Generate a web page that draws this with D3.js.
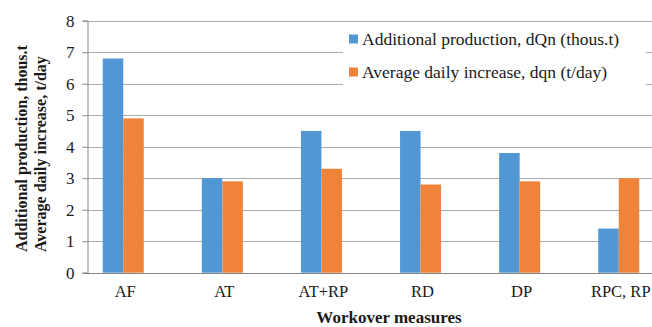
<!DOCTYPE html>
<html>
<head>
<meta charset="utf-8">
<script src="https://cdn.jsdelivr.net/npm/d3@7/dist/d3.min.js"></script>
<style>
  html, body { margin: 0; padding: 0; background: #fff; }
  svg { display: block; }
  svg text { font-family: "Times New Roman", "Liberation Serif", Times, serif !important; fill: #1a1a1a; }
</style>
</head>
<body>
<svg id="chart" width="652" height="327"></svg>
<script>
// Workover measures and their effect
const categories = ["AF", "AT", "AT+RP", "RD", "DP", "RPC, RP"];
const additionalProduction = [6.8, 3.0, 4.5, 4.5, 3.8, 1.4];   // dQn, thous.t
const averageDailyIncrease = [4.9, 2.9, 3.3, 2.8, 2.9, 3.0];   // dqn, t/day
const yTicks = [0, 1, 2, 3, 4, 5, 6, 7, 8];
const seriesNames = ["Additional production, dQn (thous.t)", "Average daily increase, dqn (t/day)"];
const seriesColors = ["#5097d3", "#f0833a"];

const svg = d3.select("#chart");
const axisX = 87.5, plotRight = 652, y0 = 272.7, yTop = 20.7;

const x = d3.scaleBand().domain(categories).range([73.7, 668.3]).paddingInner(0).paddingOuter(0);
const sub = d3.scaleBand().domain([0, 1]).range([0, x.bandwidth()]).paddingInner(0).paddingOuter(1.417);
const y = d3.scaleLinear().domain([0, 8]).range([y0, yTop]);

// gridlines
svg.append("g").selectAll("line").data(yTicks.filter(d => d > 0)).join("line")
  .attr("x1", axisX).attr("x2", plotRight)
  .attr("y1", d => Math.round(y(d)) + 0.5).attr("y2", d => Math.round(y(d)) + 0.5)
  .attr("stroke", "#ababab").attr("stroke-width", 1);

// bars
const series = [additionalProduction, averageDailyIncrease];
series.forEach((vals, si) => {
  svg.append("g").selectAll("rect").data(categories).join("rect")
    .attr("x", d => x(d) + sub(si))
    .attr("width", sub.bandwidth())
    .attr("y", (d, i) => y(vals[i]))
    .attr("height", (d, i) => y(0) - y(vals[i]))
    .attr("fill", seriesColors[si]);
});

// y axis
const yAxis = d3.axisLeft(y).tickValues(yTicks).tickSize(5).tickPadding(8).tickFormat(d3.format("d"));
const gy = svg.append("g").attr("transform", `translate(${axisX},0)`).call(yAxis)
  .attr("font-family", null);
gy.select(".domain").attr("stroke", "#858585");
gy.selectAll(".tick line").attr("stroke", "#858585");
gy.selectAll(".tick text").attr("font-size", 17).attr("fill", "#1a1a1a");

// x axis baseline
svg.append("line").attr("x1", axisX - 5).attr("x2", plotRight)
  .attr("y1", Math.round(y0) + 0.5).attr("y2", Math.round(y0) + 0.5)
  .attr("stroke", "#858585");

// category labels
svg.append("g").selectAll("text").data(categories).join("text")
  .attr("x", d => x(d) + x.bandwidth() / 2 + 2)
  .attr("y", 297)
  .attr("text-anchor", "middle")
  .attr("font-size", 16.5)
  .text(d => d);

// axis titles
svg.append("text").attr("x", 389).attr("y", 323).attr("text-anchor", "middle")
  .attr("font-size", 17).attr("font-weight", "bold").text("Workover measures");
const yt = svg.append("text").attr("transform", "translate(0,252) rotate(-90)")
  .attr("text-anchor", "start").attr("font-size", 16).attr("font-weight", "bold");
yt.append("tspan").attr("x", 0).attr("y", 27).text("Additional production, thous.t");
yt.append("tspan").attr("x", 0).attr("y", 45.5).text("Average daily increase, t/day");

// legend
const lg = svg.append("g");
lg.append("rect").attr("x", 343).attr("y", 24).attr("width", 303).attr("height", 64).attr("fill", "#fff");
seriesNames.forEach((name, i) => {
  const cy = 39 + i * 33;
  lg.append("rect").attr("x", 349).attr("y", cy - 4.5).attr("width", 9).attr("height", 9).attr("fill", seriesColors[i]);
  lg.append("text").attr("x", 362).attr("y", cy + 6).attr("font-size", 17.5).text(name);
});
</script>
</body>
</html>
